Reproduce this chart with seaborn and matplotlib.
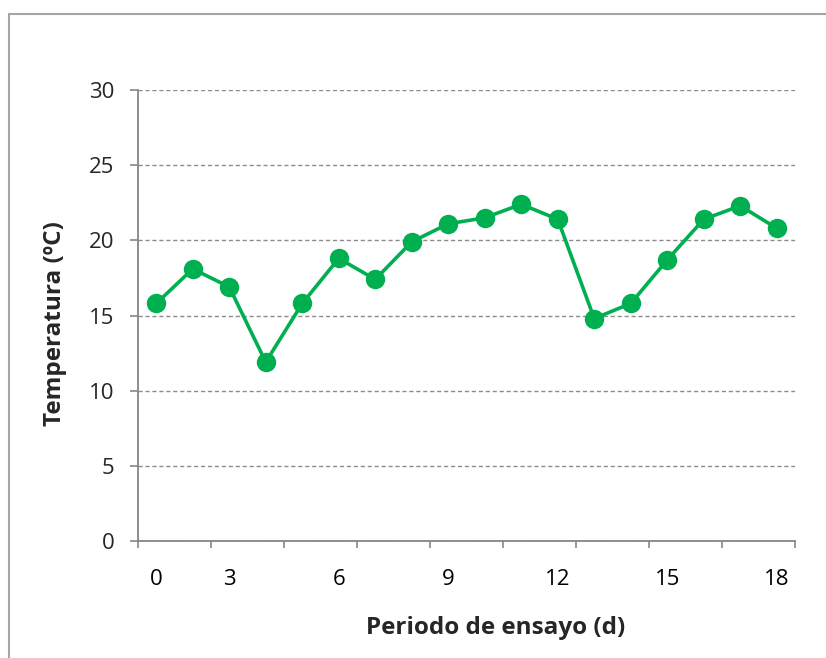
import pandas as pd
import matplotlib.pyplot as plt
import seaborn as sns
from matplotlib.patches import Rectangle
from matplotlib.ticker import FixedLocator

# data (one point per category slot)
temperatura = [15.8, 18.1, 16.9, 11.9, 15.8, 18.8, 17.4, 19.9, 21.1,
               21.5, 22.4, 21.4, 14.8, 15.8, 18.7, 21.4, 22.3, 20.8]
label_pos = [0, 2, 5, 8, 11, 14, 17]
label_txt = ['0', '3', '6', '9', '12', '15', '18']
y_ticks = [0, 5, 10, 15, 20, 25, 30]

df = pd.DataFrame({'idx': range(len(temperatura)), 'temp': temperatura})

sns.set_style('white')
plt.rcParams['font.family'] = ['Open Sans', 'DejaVu Sans']

fig = plt.figure(figsize=(8.26, 6.58), dpi=100)
ax = fig.add_axes([138 / 826, 1 - 541 / 658, 657 / 826, 451 / 658])

green = '#00b050'
grey = '#868686'

sns.lineplot(data=df, x='idx', y='temp', ax=ax, color=green, linewidth=2.6,
             marker='o', markersize=14, markeredgewidth=0, zorder=3)

ax.set_xlim(-0.5, len(temperatura) - 0.5)
ax.set_ylim(0, 30)
ax.set_yticks(y_ticks)
ax.yaxis.grid(True, linestyle=(0, (3, 2)), color='#8c8c8c', linewidth=1)
ax.xaxis.grid(False)

ax.set_xticks(label_pos)
ax.set_xticklabels(label_txt)
ax.xaxis.set_minor_locator(FixedLocator([i - 0.5 for i in range(0, len(temperatura) + 1, 2)]))
ax.tick_params(axis='x', which='major', length=0, pad=20, labelsize=16, colors='black')
ax.tick_params(axis='x', which='minor', direction='out', length=5, width=1.2,
               color=grey, bottom=True)
ax.tick_params(axis='y', direction='out', length=6, width=1.2, color=grey,
               pad=11, labelsize=16, left=True)

for s in ['top', 'right']:
    ax.spines[s].set_visible(False)
for s in ['left', 'bottom']:
    ax.spines[s].set_color(grey)
    ax.spines[s].set_linewidth(1.3)

ax.set_xlabel('Periodo de ensayo (d)', fontsize=17.5, fontweight='bold', va='center')
ax.set_ylabel('Temperatura (ºC)', fontsize=17.5, fontweight='bold', va='center')
ax.xaxis.set_label_coords(0.544, -0.193)
ax.yaxis.set_label_coords(-0.127, 0.482)

# chart area frame (only the left and top edges are visible in the image)
fig.patches.append(Rectangle((9 / 826, -0.1), 1.2, 1 - 14 / 658 + 0.1,
                             transform=fig.transFigure, fill=False,
                             edgecolor='#a6a6a6', linewidth=1.5))

fig.savefig('out.png', dpi=100)
